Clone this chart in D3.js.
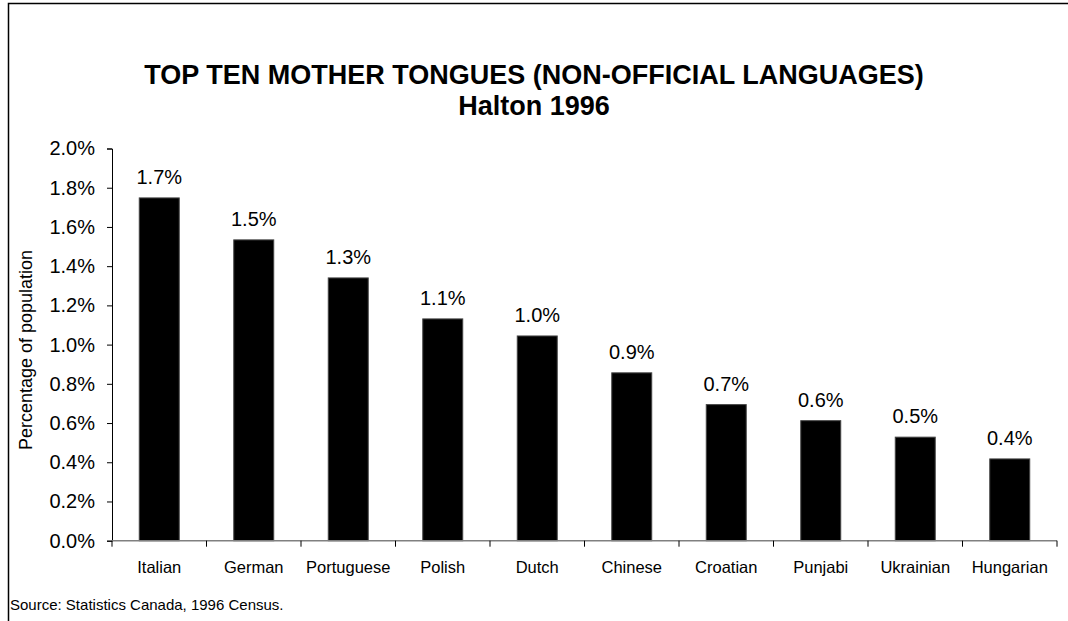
<!DOCTYPE html>
<html>
<head>
<meta charset="utf-8">
<script src="https://cdn.jsdelivr.net/npm/d3@7"></script>
<style>
  html, body { margin: 0; padding: 0; background: #fff; }
  svg { display: block; font-family: Arial, "Liberation Sans", sans-serif; }
</style>
</head>
<body>
<svg id="chart" width="1068" height="621"></svg>
<script>
const categories = ["Italian", "German", "Portuguese", "Polish", "Dutch", "Chinese", "Croatian", "Punjabi", "Ukrainian", "Hungarian"];
const percentValues = [1.748, 1.534, 1.34, 1.131, 1.044, 0.856, 0.694, 0.612, 0.528, 0.417];
const yTicks = [0, 0.2, 0.4, 0.6, 0.8, 1.0, 1.2, 1.4, 1.6, 1.8, 2.0];
const titleLines = ["TOP TEN MOTHER TONGUES (NON-OFFICIAL LANGUAGES)", "Halton 1996"];
const yAxisTitle = "Percentage of population";
const sourceNote = "Source: Statistics Canada, 1996 Census.";

const data = categories.map((c, i) => ({ cat: c, v: percentValues[i] / 100 }));

const svg = d3.select("#chart");
svg.append("rect").attr("width", 1068).attr("height", 621).attr("fill", "#fff");

// outer chart border (extends beyond right / bottom edge)
svg.append("rect")
  .attr("x", 8.5).attr("y", 3.5).attr("width", 1200).attr("height", 800)
  .attr("fill", "none").attr("stroke", "#000").attr("stroke-width", 1.5);

const x = d3.scaleBand().domain(categories).range([112, 1057])
  .paddingInner(0.577).paddingOuter(0.2885);
const y = d3.scaleLinear().domain([0, 0.02]).range([540.7, 148.5]);

// title
svg.append("g").selectAll("text").data(titleLines).join("text")
  .attr("x", 534).attr("y", (d, i) => 84 + i * 31)
  .attr("text-anchor", "middle")
  .attr("font-size", 27).attr("font-weight", "bold").attr("fill", "#000")
  .text(d => d);

// bars
svg.append("g").selectAll("rect").data(data).join("rect")
  .attr("x", d => x(d.cat)).attr("width", x.bandwidth())
  .attr("y", d => y(d.v)).attr("height", d => y(0) - y(d.v))
  .attr("fill", "#000").attr("stroke", "#444").attr("stroke-width", 1);

// value labels
const fmt = d3.format(".1%");
svg.append("g").selectAll("text").data(data).join("text")
  .attr("x", d => x(d.cat) + x.bandwidth() / 2)
  .attr("y", d => y(d.v) - 14)
  .attr("text-anchor", "middle").attr("font-size", 20).attr("fill", "#000")
  .text(d => fmt(d.v));

// y axis
const yAxis = d3.axisLeft(y)
  .tickValues(yTicks.map(t => t / 100))
  .tickFormat(fmt).tickSize(5).tickPadding(12);
const gy = svg.append("g").attr("transform", "translate(112,0)").call(yAxis);
gy.select(".domain").attr("stroke", "#000").attr("stroke-width", 1);
gy.selectAll(".tick line").attr("stroke", "#000");
gy.selectAll(".tick text").attr("font-size", 20).attr("fill", "#000")
  .attr("font-family", "Arial, 'Liberation Sans', sans-serif");

// x axis: baseline + ticks between categories
const step = x.step();
const boundaries = categories.map(c => x(c) - x.paddingOuter() * step).concat([1057]);
const gx = svg.append("g");
gx.append("line").attr("x1", 112).attr("x2", 1057).attr("y1", y(0)).attr("y2", y(0))
  .attr("stroke", "#808080").attr("stroke-width", 1.5);
gx.selectAll("line.tk").data(boundaries).join("line").attr("class", "tk")
  .attr("x1", d => d).attr("x2", d => d)
  .attr("y1", y(0)).attr("y2", y(0) + 6)
  .attr("stroke", "#000").attr("stroke-width", 1);
gx.selectAll("text").data(categories).join("text")
  .attr("x", d => x(d) + x.bandwidth() / 2).attr("y", 573)
  .attr("text-anchor", "middle").attr("font-size", 16.5).attr("fill", "#000")
  .text(d => d);

// y axis title
svg.append("text")
  .attr("transform", "translate(32,350) rotate(-90)")
  .attr("text-anchor", "middle").attr("font-size", 18).attr("fill", "#000")
  .text(yAxisTitle);

// source
svg.append("text").attr("x", 10).attr("y", 610)
  .attr("font-size", 15).attr("fill", "#000").text(sourceNote);
</script>
</body>
</html>
